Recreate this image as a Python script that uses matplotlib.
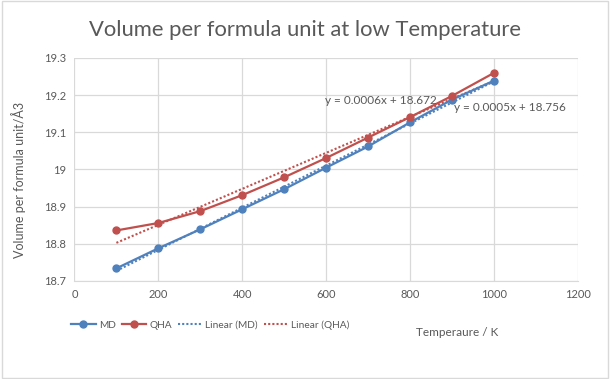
import numpy as np
import matplotlib.pyplot as plt

plt.rcParams['font.family'] = ['Lato', 'DejaVu Sans']

# --- datos ---
temps = [100, 200, 300, 400, 500, 600, 700, 800, 900, 1000]
vol_md = [18.734, 18.788, 18.839, 18.893, 18.947, 19.005, 19.062, 19.127, 19.188, 19.239]
vol_qha = [18.836, 18.856, 18.888, 18.931, 18.979, 19.031, 19.086, 19.141, 19.198, 19.260]
eq_md = "y = 0.0006x + 18.672"
eq_qha = "y = 0.0005x + 18.756"

BLUE = "#4F81BD"
RED = "#C0504D"
GRID = "#D9D9D9"
TXT = "#595959"

fig = plt.figure(figsize=(6.1, 3.79), dpi=100)
ax = fig.add_axes([0.122, 0.2586, 0.8255, 0.5884])

x = np.array(temps)
ax.plot(x, vol_md, color=BLUE, lw=1.6, marker='o', ms=5, label='MD', zorder=3)
ax.plot(x, vol_qha, color=RED, lw=1.6, marker='o', ms=5, label='QHA', zorder=3)

# lineas de tendencia
p_md = np.polyfit(x, vol_md, 1)
p_qha = np.polyfit(x, vol_qha, 1)
ax.plot(x, np.polyval(p_md, x), color=BLUE, lw=1.5, ls=(0, (1, 1)), label='Linear (MD)', zorder=2)
ax.plot(x, np.polyval(p_qha, x), color=RED, lw=1.5, ls=(0, (1, 1)), label='Linear (QHA)', zorder=2)

ax.text(597, 19.185, eq_md, fontsize=8.5, color=TXT, ha='left', va='center')
ax.text(904, 19.168, eq_qha, fontsize=8.5, color=TXT, ha='left', va='center')

ax.set_xlim(0, 1200)
ax.set_ylim(18.7, 19.3)
ax.set_xticks(range(0, 1201, 200))
ax.set_yticks([18.7, 18.8, 18.9, 19.0, 19.1, 19.2, 19.3])
ax.set_yticklabels(['18.7', '18.8', '18.9', '19', '19.1', '19.2', '19.3'])
ax.tick_params(length=0, labelsize=8, colors=TXT, pad=6)
ax.grid(True, color=GRID, lw=0.9)
ax.set_axisbelow(True)
for s in ['top', 'right', 'left']:
    ax.spines[s].set_visible(False)
ax.spines['bottom'].set_color(GRID)

fig.text(0.5, 0.922, 'Volume per formula unit at low Temperature', ha='center', va='center',
         fontsize=15.8, color=TXT)
fig.text(0.03, 0.525, 'Volume per formula unit/Å3', rotation=90, ha='center', va='center',
         fontsize=9, color=TXT)
fig.text(0.749, 0.124, 'Temperaure / K', ha='center', va='center', fontsize=8.5, color=TXT)

fig.legend(loc='center', bbox_to_anchor=(0.345, 0.1425), ncol=4, frameon=False, fontsize=7.3,
           labelcolor=TXT, handlelength=2.4, handletextpad=0.3, columnspacing=0.6)

# borde del grafico
fig.patches.append(plt.Rectangle((0.003, 0.003), 0.994, 0.994, transform=fig.transFigure,
                                 fill=False, edgecolor=GRID, lw=1))

fig.savefig("out.png", dpi=100)
